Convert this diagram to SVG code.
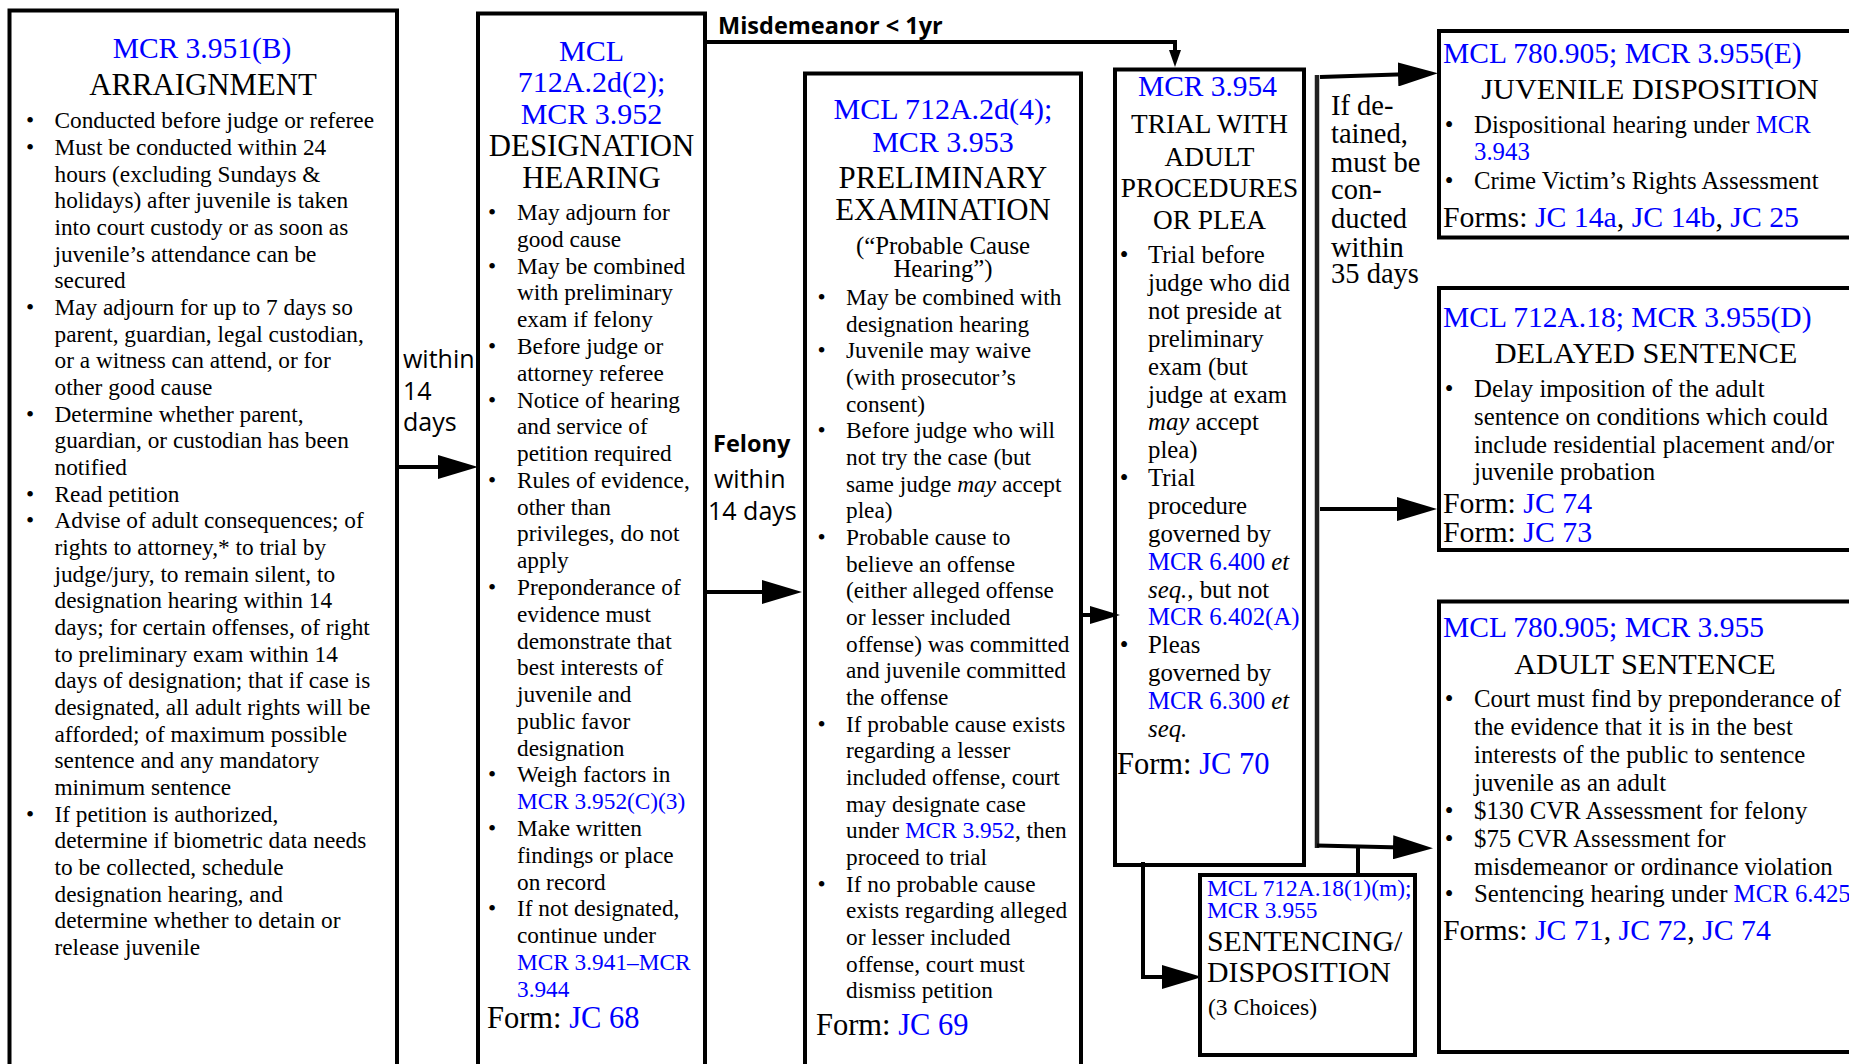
<svg xmlns="http://www.w3.org/2000/svg" width="1849" height="1064" viewBox="0 0 1849 1064">
<style>
.box{fill:#fff;stroke:#000;stroke-width:4}
.sr{font-family:"Liberation Serif","Times New Roman",serif;fill:#000}
.ss{font-family:"Open Sans","Liberation Sans",Arial,sans-serif;fill:#000}
.lk{fill:#0000ff}
.hd{font-size:29.5px}
.tt{font-size:30.8px}
.b1{font-size:23.3px}
.b2{font-size:24.8px}
.c{text-anchor:middle}
.it{font-style:italic}
.ln{fill:none;stroke:#000;stroke-width:4}
</style>
<defs>
<marker id="ah" markerWidth="40" markerHeight="24" refX="30" refY="12" orient="auto" markerUnits="userSpaceOnUse"><path d="M0,0 L40,12 L0,24 z" fill="#000"/></marker>
<marker id="ahm" markerWidth="30" markerHeight="18" refX="22" refY="9" orient="auto" markerUnits="userSpaceOnUse"><path d="M0,0 L30,9 L0,18 z" fill="#000"/></marker>
<marker id="ahs" markerWidth="17" markerHeight="12" refX="11" refY="6" orient="auto" markerUnits="userSpaceOnUse"><path d="M0,0 L17,6 L0,12 z" fill="#000"/></marker>
</defs>
<rect x="0" y="0" width="1849" height="1064" fill="#fff"/>

<g id="arraignment">
<rect class="box" x="9.5" y="10.5" width="387.5" height="1080"/>
<text class="sr hd lk c" x="202" y="58">MCR 3.951(B)</text>
<text class="sr tt c" x="203" y="95">ARRAIGNMENT</text>
<g class="sr b1">
<text x="30" y="128.3" class="c">•</text>
<text x="30" y="155" class="c">•</text>
<text x="30" y="315" class="c">•</text>
<text x="30" y="421.7" class="c">•</text>
<text x="30" y="501.7" class="c">•</text>
<text x="30" y="528.4" class="c">•</text>
<text x="30" y="821.7" class="c">•</text>
<text x="54.5" y="128.3">Conducted before judge or referee</text>
<text x="54.5" y="155">Must be conducted within 24</text>
<text x="54.5" y="181.6">hours (excluding Sundays &amp;</text>
<text x="54.5" y="208.3">holidays) after juvenile is taken</text>
<text x="54.5" y="235">into court custody or as soon as</text>
<text x="54.5" y="261.7">juvenile’s attendance can be</text>
<text x="54.5" y="288.3">secured</text>
<text x="54.5" y="315">May adjourn for up to 7 days so</text>
<text x="54.5" y="341.7">parent, guardian, legal custodian,</text>
<text x="54.5" y="368.3">or a witness can attend, or for</text>
<text x="54.5" y="395">other good cause</text>
<text x="54.5" y="421.7">Determine whether parent,</text>
<text x="54.5" y="448.3">guardian, or custodian has been</text>
<text x="54.5" y="475">notified</text>
<text x="54.5" y="501.7">Read petition</text>
<text x="54.5" y="528.4">Advise of adult consequences; of</text>
<text x="54.5" y="555">rights to attorney,* to trial by</text>
<text x="54.5" y="581.7">judge/jury, to remain silent, to</text>
<text x="54.5" y="608.4">designation hearing within 14</text>
<text x="54.5" y="635">days; for certain offenses, of right</text>
<text x="54.5" y="661.7">to preliminary exam within 14</text>
<text x="54.5" y="688.4">days of designation; that if case is</text>
<text x="54.5" y="715">designated, all adult rights will be</text>
<text x="54.5" y="741.7">afforded; of maximum possible</text>
<text x="54.5" y="768.4">sentence and any mandatory</text>
<text x="54.5" y="795.1">minimum sentence</text>
<text x="54.5" y="821.7">If petition is authorized,</text>
<text x="54.5" y="848.4">determine if biometric data needs</text>
<text x="54.5" y="875.1">to be collected, schedule</text>
<text x="54.5" y="901.7">designation hearing, and</text>
<text x="54.5" y="928.4">determine whether to detain or</text>
<text x="54.5" y="955.1">release juvenile</text>
</g>
</g>

<g id="designation">
<rect class="box" x="478" y="13.5" width="227" height="1080"/>
<text class="sr lk c" style="font-size:30px" x="591.5" y="61">MCL</text>
<text class="sr lk c" style="font-size:30px" x="591.5" y="91.7">712A.2d(2);</text>
<text class="sr lk c" style="font-size:30px" x="591.5" y="124.3">MCR 3.952</text>
<text class="sr tt c" x="591.5" y="156">DESIGNATION</text>
<text class="sr tt c" x="591.5" y="188.3">HEARING</text>
<g class="sr b1">
<text x="492" y="220" class="c">•</text>
<text x="492" y="273.6" class="c">•</text>
<text x="492" y="353.9" class="c">•</text>
<text x="492" y="407.5" class="c">•</text>
<text x="492" y="487.8" class="c">•</text>
<text x="492" y="594.9" class="c">•</text>
<text x="492" y="782.4" class="c">•</text>
<text x="492" y="835.9" class="c">•</text>
<text x="492" y="916.3" class="c">•</text>
<text x="517" y="220">May adjourn for</text>
<text x="517" y="246.8">good cause</text>
<text x="517" y="273.6">May be combined</text>
<text x="517" y="300.3">with preliminary</text>
<text x="517" y="327.1">exam if felony</text>
<text x="517" y="353.9">Before judge or</text>
<text x="517" y="380.7">attorney referee</text>
<text x="517" y="407.5">Notice of hearing</text>
<text x="517" y="434.2">and service of</text>
<text x="517" y="461">petition required</text>
<text x="517" y="487.8">Rules of evidence,</text>
<text x="517" y="514.6">other than</text>
<text x="517" y="541.4">privileges, do not</text>
<text x="517" y="568.1">apply</text>
<text x="517" y="594.9">Preponderance of</text>
<text x="517" y="621.7">evidence must</text>
<text x="517" y="648.5">demonstrate that</text>
<text x="517" y="675.3">best interests of</text>
<text x="517" y="702">juvenile and</text>
<text x="517" y="728.8">public favor</text>
<text x="517" y="755.6">designation</text>
<text x="517" y="782.4">Weigh factors in</text>
<text x="517" y="809.2" class="lk">MCR 3.952(C)(3)</text>
<text x="517" y="835.9">Make written</text>
<text x="517" y="862.7">findings or place</text>
<text x="517" y="889.5">on record</text>
<text x="517" y="916.3">If not designated,</text>
<text x="517" y="943.1">continue under</text>
<text x="517" y="969.8" class="lk">MCR 3.941–MCR</text>
<text x="517" y="996.6" class="lk">3.944</text>
</g>
<text class="sr" style="font-size:30.5px" x="487" y="1028.3">Form: <tspan class="lk">JC 68</tspan></text>
</g>

<g id="preliminary-exam">
<rect class="box" x="805" y="73.5" width="276" height="1020"/>
<text class="sr lk c" style="font-size:30px" x="943" y="119">MCL 712A.2d(4);</text>
<text class="sr lk c" style="font-size:30px" x="943" y="151.5">MCR 3.953</text>
<text class="sr tt c" x="943" y="188.3">PRELIMINARY</text>
<text class="sr tt c" x="943" y="220">EXAMINATION</text>
<text class="sr b2 c" x="943" y="254">(“Probable Cause</text>
<text class="sr b2 c" x="943" y="276.7">Hearing”)</text>
<g class="sr b1">
<text x="821.7" y="305" class="c">•</text>
<text x="821.7" y="358.3" class="c">•</text>
<text x="821.7" y="438.4" class="c">•</text>
<text x="821.7" y="545" class="c">•</text>
<text x="821.7" y="731.7" class="c">•</text>
<text x="821.7" y="891.7" class="c">•</text>
<text x="846" y="305">May be combined with</text>
<text x="846" y="331.7">designation hearing</text>
<text x="846" y="358.3">Juvenile may waive</text>
<text x="846" y="385">(with prosecutor’s</text>
<text x="846" y="411.7">consent)</text>
<text x="846" y="438.4">Before judge who will</text>
<text x="846" y="465">not try the case (but</text>
<text x="846" y="491.7">same judge <tspan class="it">may</tspan> accept</text>
<text x="846" y="518.4">plea)</text>
<text x="846" y="545">Probable cause to</text>
<text x="846" y="571.7">believe an offense</text>
<text x="846" y="598.4">(either alleged offense</text>
<text x="846" y="625">or lesser included</text>
<text x="846" y="651.7">offense) was committed</text>
<text x="846" y="678.4">and juvenile committed</text>
<text x="846" y="705.1">the offense</text>
<text x="846" y="731.7">If probable cause exists</text>
<text x="846" y="758.4">regarding a lesser</text>
<text x="846" y="785.1">included offense, court</text>
<text x="846" y="811.7">may designate case</text>
<text x="846" y="838.4">under <tspan class="lk">MCR 3.952</tspan>, then</text>
<text x="846" y="865.1">proceed to trial</text>
<text x="846" y="891.7">If no probable cause</text>
<text x="846" y="918.4">exists regarding alleged</text>
<text x="846" y="945.1">or lesser included</text>
<text x="846" y="971.8">offense, court must</text>
<text x="846" y="998.4">dismiss petition</text>
</g>
<text class="sr" style="font-size:30.5px" x="816" y="1035">Form: <tspan class="lk">JC 69</tspan></text>
</g>

<g id="trial">
<rect class="box" x="1115" y="69.5" width="189" height="795.5"/>
<text class="sr lk c" style="font-size:29.4px" x="1207.5" y="96">MCR 3.954</text>
<g class="sr c" style="font-size:27.3px">
<text x="1209.5" y="133.3">TRIAL WITH</text>
<text x="1209.5" y="165.7">ADULT</text>
<text x="1209.5" y="197.3">PROCEDURES</text>
<text x="1209.5" y="229.3">OR PLEA</text>
</g>
<g class="sr b2">
<text x="1124" y="263.3" class="c">•</text>
<text x="1124" y="486.1" class="c">•</text>
<text x="1124" y="653.2" class="c">•</text>
<text x="1148" y="263.3">Trial before</text>
<text x="1148" y="291.2">judge who did</text>
<text x="1148" y="319">not preside at</text>
<text x="1148" y="346.9">preliminary</text>
<text x="1148" y="374.7">exam (but</text>
<text x="1148" y="402.6">judge at exam</text>
<text x="1148" y="430.4"><tspan class="it">may</tspan> accept</text>
<text x="1148" y="458.3">plea)</text>
<text x="1148" y="486.1">Trial</text>
<text x="1148" y="514">procedure</text>
<text x="1148" y="541.8">governed by</text>
<text x="1148" y="569.7"><tspan class="lk">MCR 6.400</tspan> <tspan class="it">et</tspan></text>
<text x="1148" y="597.5"><tspan class="it">seq.</tspan>, but not</text>
<text x="1148" y="625.4" class="lk">MCR 6.402(A)</text>
<text x="1148" y="653.2">Pleas</text>
<text x="1148" y="681.1">governed by</text>
<text x="1148" y="708.9"><tspan class="lk">MCR 6.300</tspan> <tspan class="it">et</tspan></text>
<text x="1148" y="736.8" class="it">seq.</text>
</g>
<text class="sr" style="font-size:30.5px" x="1117" y="774">Form: <tspan class="lk">JC 70</tspan></text>
</g>

<g id="sentencing-disposition">
<rect class="box" x="1200" y="875" width="215" height="180"/>
<text class="sr lk" style="font-size:23.4px" x="1207" y="896">MCL 712A.18(1)(m);</text>
<text class="sr lk" style="font-size:23.4px" x="1207" y="918.3">MCR 3.955</text>
<text class="sr" style="font-size:29.8px" x="1207" y="950.7">SENTENCING/</text>
<text class="sr" style="font-size:29.8px" x="1207" y="981.7">DISPOSITION</text>
<text class="sr" style="font-size:23.5px" x="1208" y="1015">(3 Choices)</text>
</g>

<g id="juvenile-disposition">
<rect class="box" x="1439" y="31" width="430" height="206.5"/>
<text class="sr hd lk" x="1443" y="63.3">MCL 780.905; MCR 3.955(E)</text>
<text class="sr c" style="font-size:30.3px" x="1650" y="99">JUVENILE DISPOSITION</text>
<g class="sr b2">
<text x="1449" y="133.3" class="c">•</text>
<text x="1449" y="189" class="c">•</text>
<text x="1474" y="133.3">Dispositional hearing under <tspan class="lk">MCR</tspan></text>
<text x="1474" y="160" class="lk">3.943</text>
<text x="1474" y="189">Crime Victim’s Rights Assessment</text>
</g>
<text class="sr" style="font-size:29.8px" x="1443" y="226.7">Forms: <tspan class="lk">JC 14a</tspan>, <tspan class="lk">JC 14b</tspan>, <tspan class="lk">JC 25</tspan></text>
</g>

<g id="delayed-sentence">
<rect class="box" x="1439" y="288" width="430" height="262"/>
<text class="sr hd lk" x="1443" y="326.7">MCL 712A.18; MCR 3.955(D)</text>
<text class="sr c" style="font-size:30.3px" x="1646" y="362.5">DELAYED SENTENCE</text>
<g class="sr b2">
<text x="1449" y="396.7" class="c">•</text>
<text x="1474" y="396.7">Delay imposition of the adult</text>
<text x="1474" y="425">sentence on conditions which could</text>
<text x="1474" y="452.7">include residential placement and/or</text>
<text x="1474" y="480">juvenile probation</text>
</g>
<text class="sr" style="font-size:29.8px" x="1443" y="513.3">Form: <tspan class="lk">JC 74</tspan></text>
<text class="sr" style="font-size:29.8px" x="1443" y="541.7">Form: <tspan class="lk">JC 73</tspan></text>
</g>

<g id="adult-sentence">
<rect class="box" x="1439" y="601.5" width="430" height="450.5"/>
<text class="sr hd lk" x="1443" y="636.7">MCL 780.905; MCR 3.955</text>
<text class="sr c" style="font-size:30.3px" x="1645" y="674">ADULT SENTENCE</text>
<g class="sr b2">
<text x="1449" y="706.7" class="c">•</text>
<text x="1449" y="819" class="c">•</text>
<text x="1449" y="846.7" class="c">•</text>
<text x="1449" y="902.3" class="c">•</text>
<text x="1474" y="706.7">Court must find by preponderance of</text>
<text x="1474" y="735">the evidence that it is in the best</text>
<text x="1474" y="763.3">interests of the public to sentence</text>
<text x="1474" y="790.7">juvenile as an adult</text>
<text x="1474" y="819">$130 CVR Assessment for felony</text>
<text x="1474" y="846.7">$75 CVR Assessment for</text>
<text x="1474" y="875">misdemeanor or ordinance violation</text>
<text x="1474" y="902.3">Sentencing hearing under <tspan class="lk">MCR 6.425</tspan></text>
</g>
<text class="sr" style="font-size:29.8px" x="1443" y="940">Forms: <tspan class="lk">JC 71</tspan>, <tspan class="lk">JC 72</tspan>, <tspan class="lk">JC 74</tspan></text>
</g>

<g id="connectors">
<path class="ln" d="M397,467 H468" marker-end="url(#ah)"/>
<path class="ln" d="M705,592 H792" marker-end="url(#ah)"/>
<path class="ln" d="M1081,615 H1112" marker-end="url(#ahm)"/>
<path class="ln" d="M706,42 H1175 V61" marker-end="url(#ahs)"/>
<path class="ln" d="M1143,862 V977 H1192" marker-end="url(#ah)"/>
<path class="ln" d="M1317,75 V848" style="stroke:#222;stroke-width:4.5"/>
<path class="ln" d="M1320,77 L1428,73.5" marker-end="url(#ah)"/>
<path class="ln" d="M1320,509 H1427" marker-end="url(#ah)"/>
<path class="ln" d="M1317,845.5 L1423,848" marker-end="url(#ah)"/>
<path class="ln" d="M1358,846 V875"/>
</g>

<g id="labels">
<text class="ss" style="font-size:23.5px;font-weight:bold" x="718" y="34">Misdemeanor &lt; 1yr</text>
<text class="ss" style="font-size:25px" x="403" y="367.5">within</text>
<text class="ss" style="font-size:25px" x="403" y="400">14</text>
<text class="ss" style="font-size:25px" x="403" y="431">days</text>
<text class="ss" style="font-size:23.5px;font-weight:bold" x="713" y="452">Felony</text>
<text class="ss" style="font-size:25px" x="714" y="488">within</text>
<text class="ss" style="font-size:25px" x="708" y="520">14 days</text>
<g class="sr" style="font-size:28.5px">
<text x="1331" y="115">If de-</text>
<text x="1331" y="143">tained,</text>
<text x="1331" y="172">must be</text>
<text x="1331" y="199">con-</text>
<text x="1331" y="228">ducted</text>
<text x="1331" y="257">within</text>
<text x="1331" y="283">35 days</text>
</g>
</g>
</svg>
